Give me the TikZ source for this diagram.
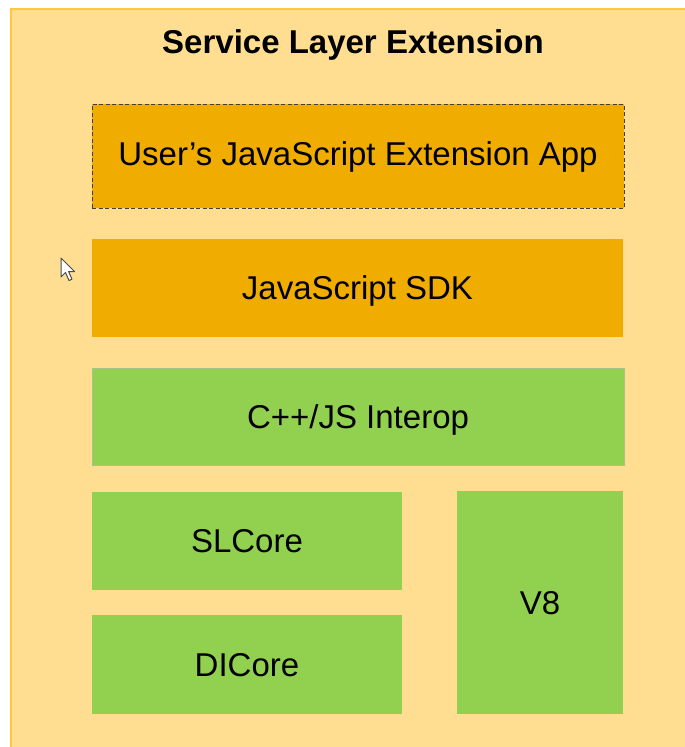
\documentclass[tikz,border=0pt]{standalone}
\usepackage{fontspec}
\setmainfont{Liberation Sans}
\definecolor{outerfill}{HTML}{FFDE92}
\definecolor{outerline}{HTML}{FFC83C}
\definecolor{orangefill}{HTML}{F0AD00}
\definecolor{greenfill}{HTML}{92D050}
\definecolor{greenline}{HTML}{A6C48A}
\begin{document}
\begin{tikzpicture}[x=1pt,y=-1pt,
  layerbox/.style={inner sep=0pt, outer sep=0pt, font=\fontsize{33}{38}\selectfont, text=black, text height=23.6pt, text depth=0pt},
  orangebox/.style={layerbox, fill=orangefill},
  greenbox/.style={layerbox, fill=greenfill}]
\useasboundingbox (0,0) rectangle (685,747);
\clip (0,0) rectangle (685,747);
\fill[white] (0,0) rectangle (685,747);
\node[draw=outerline, line width=1.5pt, fill=outerfill, minimum width=700pt, minimum height=760pt, inner sep=0pt, anchor=north west] (outer) at (10,8) {};
\node[font=\bfseries\fontsize{33}{38}\selectfont, inner sep=0pt, text height=23.6pt, text depth=0pt] (title) at (353,41.5) {Service Layer Extension};
\node[orangebox, draw=black!75, dashed, line width=1pt, dash pattern=on 4pt off 2.5pt, minimum width=532pt, minimum height=104pt] (app) at (358,156) {\raisebox{2pt}{User’s JavaScript Extension App}};
\node[orangebox, minimum width=531pt, minimum height=98pt] (sdk) at (357.5,288) {JavaScript SDK};
\node[greenbox, draw=greenline, line width=1pt, minimum width=532pt, minimum height=97pt] (interop) at (358,416.5) {C++/JS Interop};
\node[greenbox, minimum width=310pt, minimum height=98pt] (slcore) at (247,541) {SLCore};
\node[greenbox, minimum width=310pt, minimum height=99pt] (dicore) at (247,664.5) {DICore};
\node[greenbox, minimum width=166pt, minimum height=223pt] (v8) at (540,602.5) {V8};
% mouse cursor
\filldraw[fill=white, draw=black!70, line width=1pt, line join=round]
  (61,258) -- (61,277) -- (65.5,272.5) -- (69,280.5) -- (72,279.2) -- (68.6,271.5) -- (74.5,271.5) -- cycle;
\end{tikzpicture}
\end{document}
